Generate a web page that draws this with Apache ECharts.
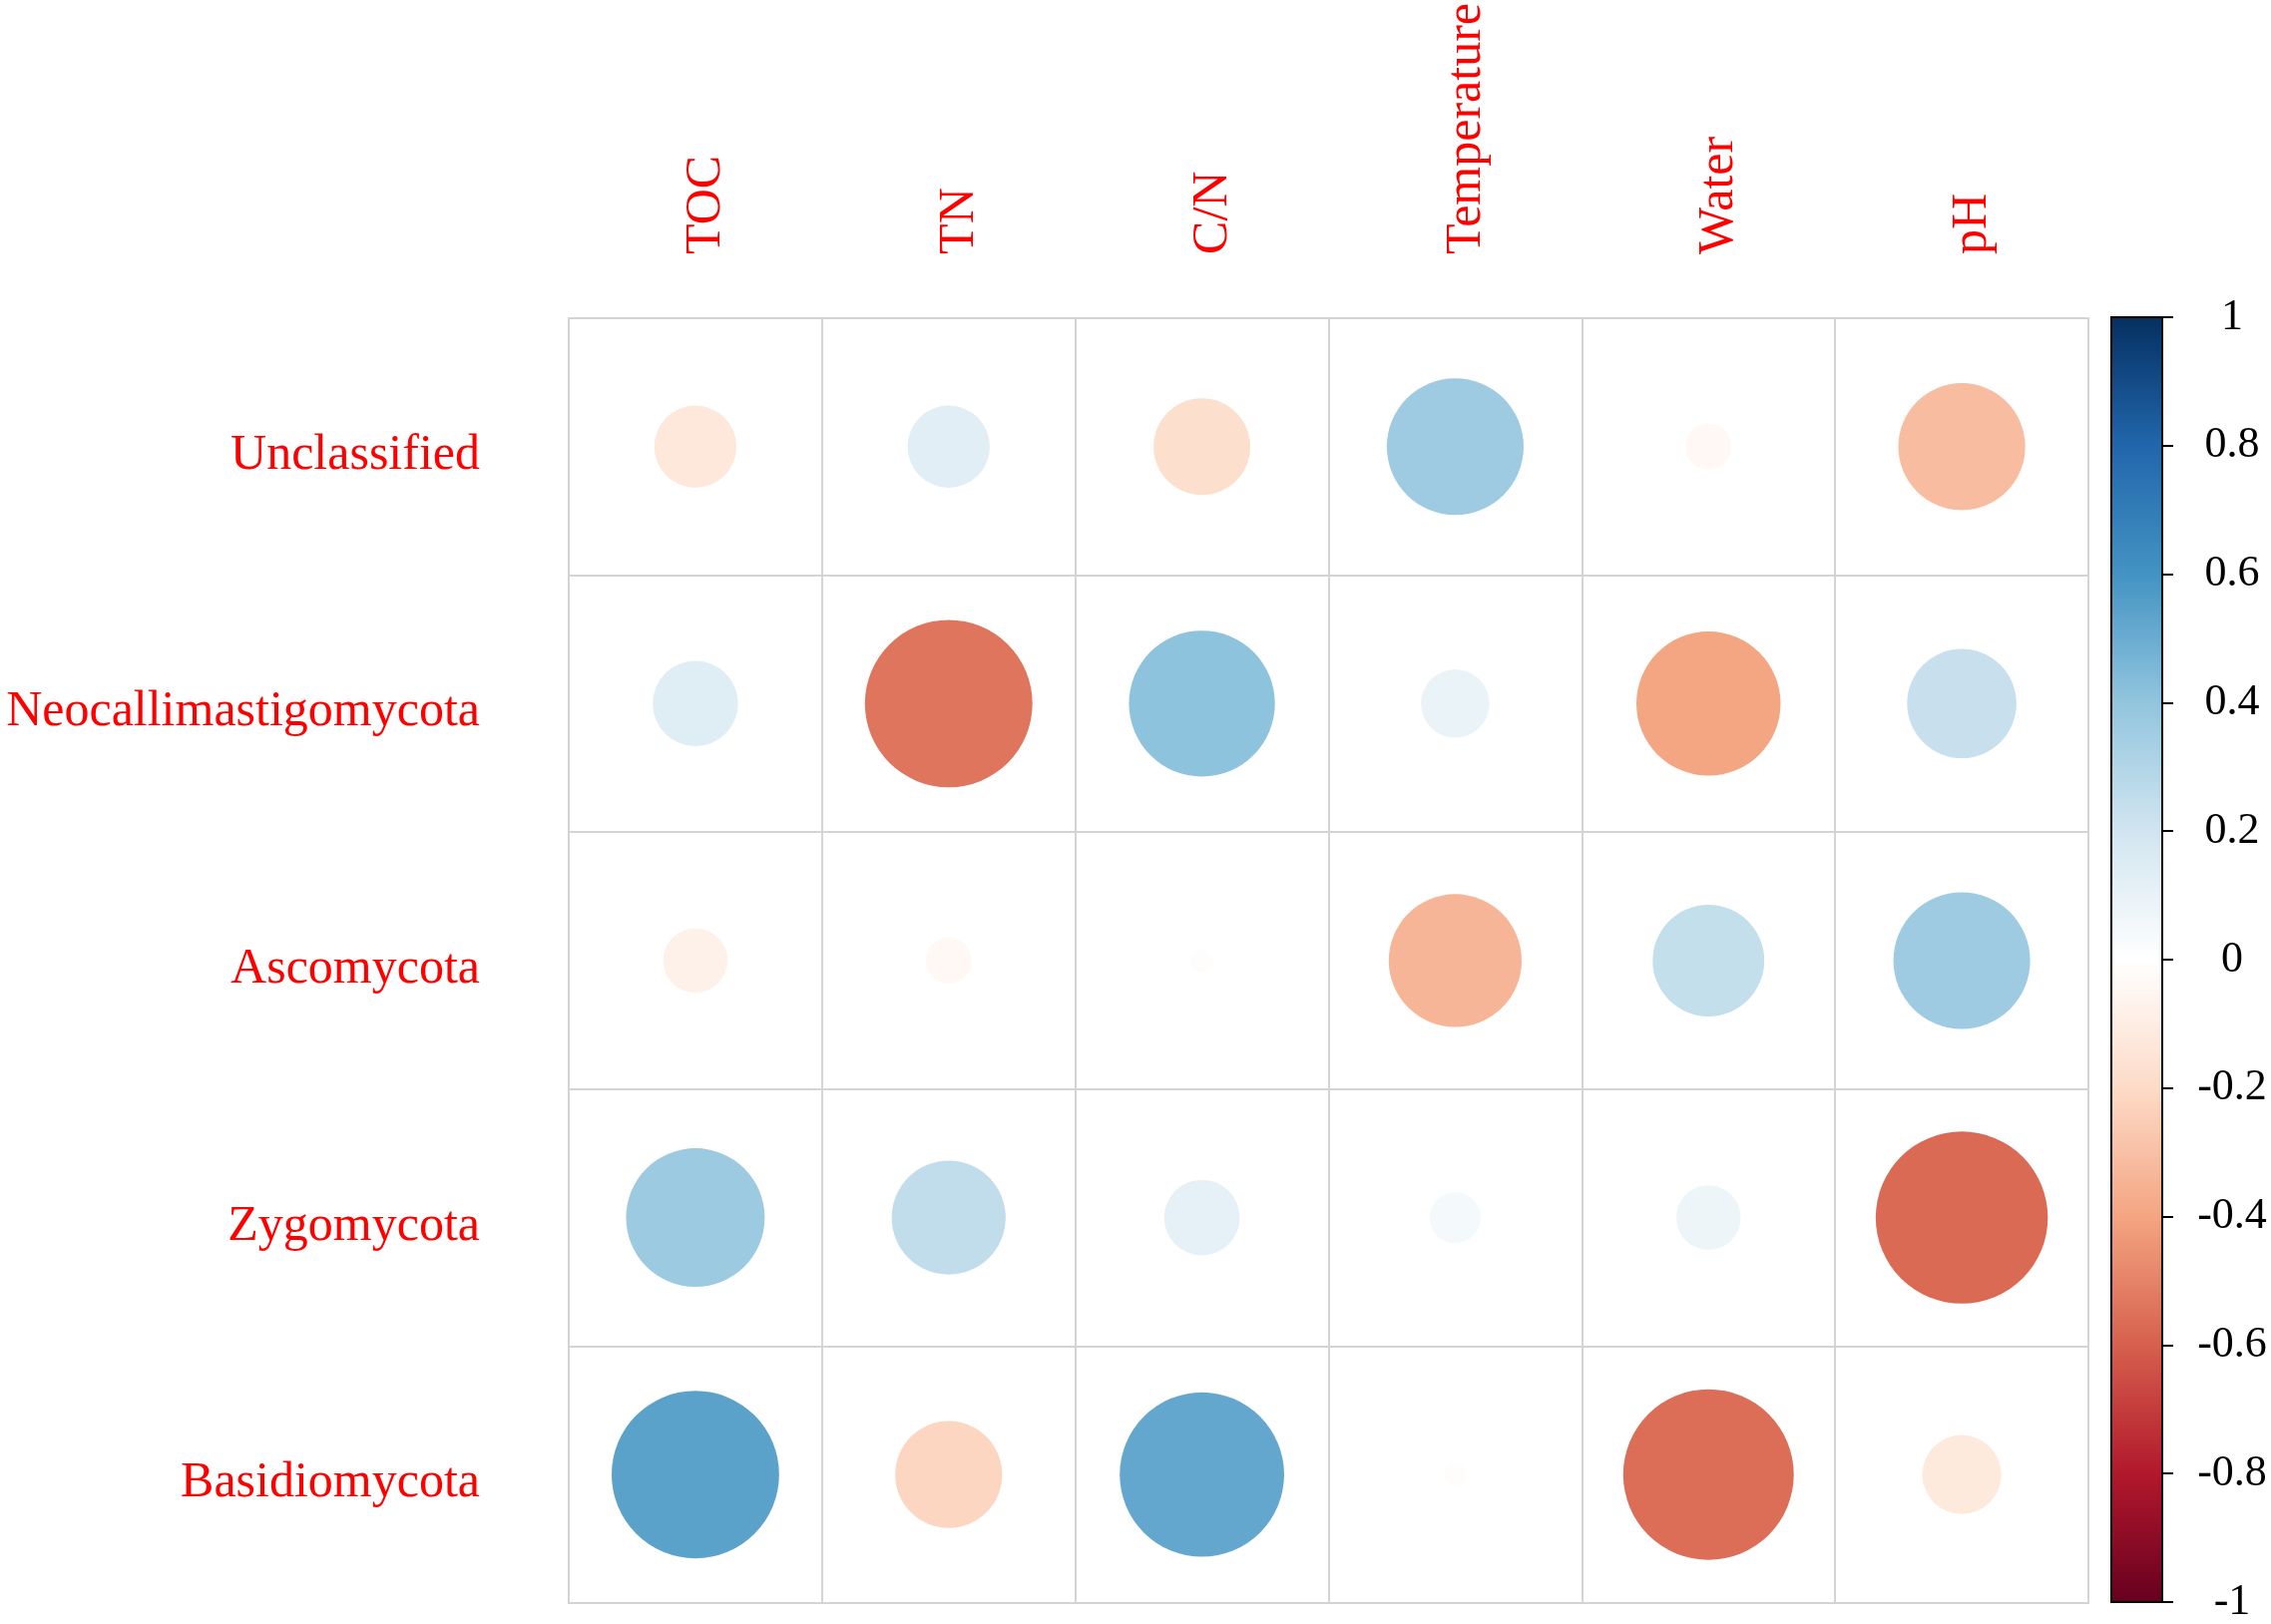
<!DOCTYPE html>
<html>
<head>
<meta charset="utf-8">
<script src="https://cdn.jsdelivr.net/npm/echarts@6/dist/echarts.min.js"></script>
<style>
html,body{margin:0;padding:0;background:#fff;}
#chart{width:2276px;height:1628px;}
</style>
</head>
<body>
<div id="chart"></div>
<script>
// ---- data ----
var variables = ['TOC', 'TN', 'C/N', 'Temperature', 'Water', 'pH'];
var taxa = ['Unclassified', 'Neocallimastigomycota', 'Ascomycota', 'Zygomycota', 'Basidiomycota'];
var corrUnclassified = [-0.13, 0.13, -0.18, 0.36, -0.04, -0.31];
var corrNeocallimastigomycota = [0.14, -0.54, 0.41, 0.09, -0.40, 0.23];
var corrAscomycota = [-0.08, -0.04, -0.01, -0.34, 0.24, 0.36];
var corrZygomycota = [0.37, 0.25, 0.11, 0.05, 0.08, -0.57];
var corrBasidiomycota = [0.54, -0.22, 0.52, -0.01, -0.56, -0.12];
var colorbarTicks = [-1, -0.8, -0.6, -0.4, -0.2, 0, 0.2, 0.4, 0.6, 0.8, 1];
var palette = ['#67001F', '#B2182B', '#D6604D', '#F4A582', '#FDDBC7', '#FFFFFF',
               '#D1E5F0', '#92C5DE', '#4393C3', '#2166AC', '#053061'];

var corrRows = [corrUnclassified, corrNeocallimastigomycota, corrAscomycota, corrZygomycota, corrBasidiomycota];
var points = [];
corrRows.forEach(function (row, ri) {
  row.forEach(function (v, ci) { points.push([ci, ri, v]); });
});

var gridLeft = 570, gridTop = 317, gridW = 1523, gridH = 1290;
var cell = Math.min(gridW / variables.length, gridH / taxa.length);

var chart = echarts.init(document.getElementById('chart'), null, {renderer: 'canvas'});
var serif = '"Liberation Serif", "Times New Roman", Times, serif';
var gridLineColor = '#d4d4d4';

var posStops = [], negStops = [];
for (var i = 0; i <= 5; i++) {
  posStops.push({offset: i / 5, color: palette[10 - i]});
  negStops.push({offset: i / 5, color: palette[5 - i]});
}

chart.setOption({
  backgroundColor: '#fff',
  animation: false,
  grid: [
    {left: gridLeft, top: gridTop, width: gridW, height: gridH, show: true,
     borderColor: gridLineColor, borderWidth: 2, backgroundColor: 'transparent'},
    {left: 2116, top: 318, width: 51, height: 1289, show: true,
     borderColor: '#000', borderWidth: 2, backgroundColor: 'transparent', z: 5}
  ],
  xAxis: [
    {type: 'category', data: variables, position: 'top', gridIndex: 0,
     axisLine: {show: false}, axisTick: {show: false},
     axisLabel: {rotate: -90, margin: 64, color: '#FF0000', fontFamily: serif, fontSize: 50,
       verticalAlign: 'top', lineHeight: 22},
     splitLine: {show: true, lineStyle: {color: gridLineColor, width: 2}}},
    {type: 'category', data: ['bar'], gridIndex: 1, show: false}
  ],
  yAxis: [
    {type: 'category', data: taxa, inverse: true, gridIndex: 0,
     axisLine: {show: false}, axisTick: {show: false},
     axisLabel: {margin: 89, color: '#FF0000', fontFamily: serif, fontSize: 50,
       verticalAlign: 'top', lineHeight: 18},
     splitLine: {show: true, lineStyle: {color: gridLineColor, width: 2}}},
    {type: 'value', gridIndex: 1, min: -1, max: 1, interval: 0.2, position: 'right',
     axisLine: {show: true, lineStyle: {color: '#000', width: 2}},
     axisTick: {show: true, length: 11, lineStyle: {color: '#000', width: 2}},
     axisLabel: {margin: 70, align: 'center', color: '#000', fontFamily: serif, fontSize: 44,
       formatter: function (v) { return String(Math.round(v * 10) / 10); }},
     splitLine: {show: false}}
  ],
  visualMap: [{
    type: 'continuous', show: false, seriesIndex: 0, dimension: 2,
    min: -1, max: 1, inRange: {color: palette}
  }],
  series: [
    {type: 'scatter', xAxisIndex: 0, yAxisIndex: 0, data: points, symbol: 'circle',
     symbolSize: function (val) { return 0.9 * Math.sqrt(Math.abs(val[2])) * cell; },
     itemStyle: {opacity: 1}, silent: true},
    {type: 'bar', xAxisIndex: 1, yAxisIndex: 1, data: [colorbarTicks[10]], barWidth: '100%', barGap: '-100%',
     itemStyle: {color: new echarts.graphic.LinearGradient(0, 0, 0, 1, posStops)}, silent: true},
    {type: 'bar', xAxisIndex: 1, yAxisIndex: 1, data: [colorbarTicks[0]], barWidth: '100%', barGap: '-100%',
     itemStyle: {color: new echarts.graphic.LinearGradient(0, 0, 0, 1, negStops)}, silent: true}
  ]
});
</script>
</body>
</html>
